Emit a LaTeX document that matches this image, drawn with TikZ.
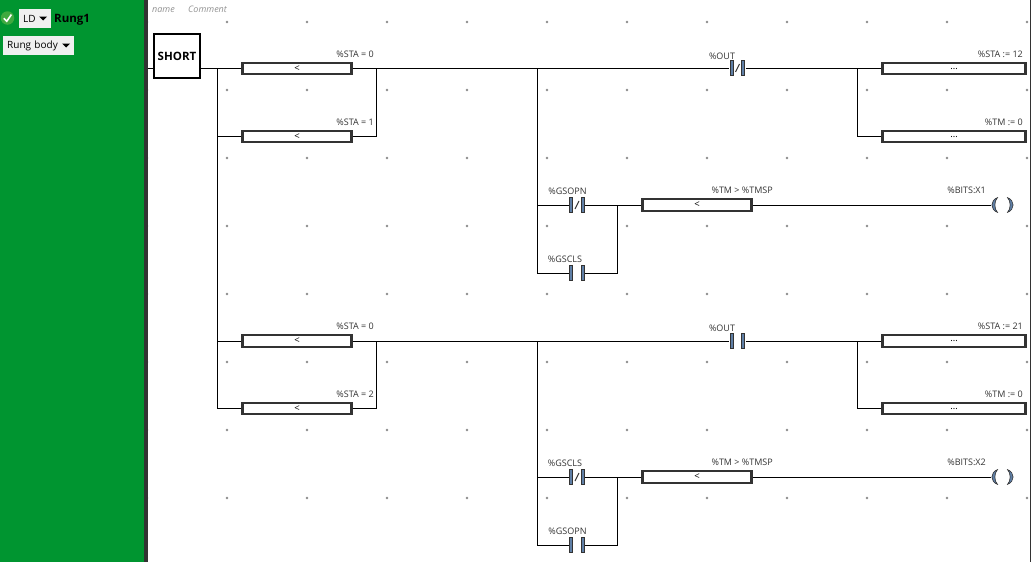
\documentclass[tikz,border=0pt]{standalone}
\usepackage{fontspec}
\setmainfont{Open Sans}
\usepackage{xcolor}
\usetikzlibrary{arrows.meta, calc}

\definecolor{rungside}{HTML}{009530}
\definecolor{railgray}{HTML}{333333}
\definecolor{barblue}{HTML}{5F7FA6}

\begin{document}
\begin{tikzpicture}[x=1pt,y=-1pt]

% Stili per gli elementi del rung
\tikzset{
  griddot/.style={circle, fill=gray!90, inner sep=0pt, minimum size=2.8pt},
  wire/.style={black, line width=0.85pt},
  blockbox/.style={draw=railgray, line width=2.2pt, fill=white, inner sep=0pt, minimum height=11.5pt,
    font=\fontsize{9.5}{9.5}\selectfont},
  cmpbox/.style={blockbox, minimum width=109pt},
  setbox/.style={blockbox, minimum width=143pt},
  tag/.style={inner sep=0pt, text=black!80, font=\fontsize{9}{9}\selectfont},
  contact/.style={inner sep=0pt, minimum width=16pt, minimum height=15.5pt,
    path picture={
      \coordinate (cnw) at (path picture bounding box.north west);
      \draw[fill=barblue, draw=railgray, line width=0.9pt] ($(cnw)+(0.6,0.4)$) rectangle ($(cnw)+(3.8,15.1)$);
      \draw[fill=barblue, draw=railgray, line width=0.9pt] ($(cnw)+(12.2,0.4)$) rectangle ($(cnw)+(15.4,15.1)$);
    }},
  contactnc/.style={contact, append after command={
      \pgfextra{\draw[railgray, line width=1.1pt]
        ($(\tikzlastnode.center)+(-2,4)$) -- ($(\tikzlastnode.center)+(2,-4)$);}}},
  coil/.style={inner sep=0pt, minimum width=23pt, minimum height=15.5pt,
    path picture={
      \coordinate (cnw) at (path picture bounding box.north west);
      \fill[barblue, draw=railgray, line width=0.6pt]
        ($(cnw)+(6.5,0.4)$) .. controls ($(cnw)+(-1,3)$) and ($(cnw)+(-1,12.5)$) .. ($(cnw)+(6.5,15.1)$)
        .. controls ($(cnw)+(3,12)$) and ($(cnw)+(3,3.5)$) .. cycle;
      \fill[barblue, draw=railgray, line width=0.6pt]
        ($(cnw)+(16.5,0.4)$) .. controls ($(cnw)+(24,3)$) and ($(cnw)+(24,12.5)$) .. ($(cnw)+(16.5,15.1)$)
        .. controls ($(cnw)+(20,12)$) and ($(cnw)+(20,3.5)$) .. cycle;
    }},
  menubox/.style={fill=gray!12, inner sep=0pt, text=black, font=\fontsize{10}{10}\selectfont}
}

\useasboundingbox (0,0) rectangle (1031,562);
\fill[white] (0,0) rectangle (1031,562);

% --- Griglia di punti ---
\foreach \gx in {147,227,...,1027}
  \foreach \gy in {22,90,158,226,294,362,430,498}
    \node[griddot] at (\gx,\gy) {};

% --- Barra laterale ---
\fill[rungside] (0,0) rectangle (144,562);
\fill[railgray] (144,0) rectangle (147.5,562);
\fill[railgray] (1029.5,0) rectangle (1031,562);

\node[circle, fill=green!55!black!75!white, inner sep=0pt, minimum size=13.5pt] (okmark) at (7.5,18) {};
\draw[white, line width=1.6pt] (3.8,18.2) -- (6.8,21.2) -- (11.4,14.6);

\node[menubox, minimum width=32pt, minimum height=19pt, anchor=north west, text width=29pt, align=left] (ldmenu) at (19,9) {\hspace{2.5pt}LD};
\fill[black] (39,16.5) -- (47,16.5) -- (43,20.5) -- cycle;
\node[anchor=base west, inner sep=0pt, font=\fontsize{11.5}{11.5}\selectfont\bfseries] (rungname) at (54,23) {Rung1};

\node[menubox, minimum width=71pt, minimum height=19pt, anchor=north west, text width=68pt, align=left] (bodymenu) at (3,36) {\hspace{2.5pt}Rung body};
\fill[black] (62,43.5) -- (70,43.5) -- (66,47.5) -- cycle;

% --- Intestazione ---
\node[anchor=base west, inner sep=0pt, text=gray!85, font=\fontsize{9}{9}\selectfont\itshape] (rungtitle) at (152,12.5) {name};
\node[anchor=base west, inner sep=0pt, text=gray!85, font=\fontsize{9}{9}\selectfont\itshape] (rungnote) at (188,12.5) {Comment};

% --- Blocco di partenza ---
\node[draw=black, line width=2pt, fill=white, minimum width=46.5pt, minimum height=44.5pt, inner sep=0pt,
  font=\fontsize{11.5}{11.5}\selectfont\bfseries] (short) at (177,56) {SHORT};
\coordinate (leftstub) at (147.5,68);
\draw[wire] (leftstub) -- (short.west |- leftstub);

% --- Primo ramo ---
\node[cmpbox] (staA) at (297,68.5) {<};
\node[cmpbox] (staB) at (297,136.5) {<};
\node[tag, anchor=base east] (staAtag) at (374,57) {\%STA = 0};
\node[tag, anchor=base east] (staBtag) at (374,125) {\%STA = 1};

\coordinate (railtop) at (217,68);
\coordinate (rejoinA) at (376,68);
\coordinate (forkA) at (537,68);
\coordinate (forkcoilA) at (857,68);
\coordinate (joinA) at (617,205);

\node[contactnc] (outA) at (737.5,68) {};
\node[tag] (outAtag) at (722,56) {\%OUT};
\node[setbox] (setstaA) at (954,68.5) {\raisebox{-2pt}{\ldots}};
\node[setbox] (settmA) at (954,136.5) {\raisebox{-2pt}{\ldots}};
\node[tag, anchor=base east] (setstaAtag) at (1023,57) {\%STA := 12};
\node[tag, anchor=base east] (settmAtag) at (1023,125) {\%TM := 0};

\node[contactnc] (opnA) at (577,205) {};
\node[tag] (opnAtag) at (567.5,191) {\%GSOPN};
\node[contact] (clsA) at (577,273) {};
\node[tag] (clsAtag) at (565,259) {\%GSCLS};
\node[cmpbox] (tmA) at (697,205) {<};
\node[tag, anchor=base east] (tmAtag) at (773,193) {\%TM > \%TMSP};
\node[coil] (bitsA) at (1002.5,205) {};
\node[tag, anchor=base east] (bitsAtag) at (986,193) {\%BITS:X1};

\draw[wire] (short.east |- railtop) -- (staA.west |- railtop);
\draw[wire] (railtop) |- (staB.west);
\draw[wire] (staB.east) -| (rejoinA);
\draw[wire] (staA.east |- rejoinA) -- (outA.west);
\draw[wire] (outA.east) -- (setstaA.west |- forkcoilA);
\draw[wire] (forkcoilA) |- (settmA.west);
\draw[wire] (forkA) |- (opnA.west);
\draw[wire] (forkA) |- (clsA.west);
\draw[wire] (opnA.east) -- (tmA.west);
\draw[wire] (clsA.east) -| (joinA);
\draw[wire] (tmA.east) -- (bitsA.west);

% --- Secondo ramo ---
\node[cmpbox] (staC) at (297,341) {<};
\node[cmpbox] (staD) at (297,408.5) {<};
\node[tag, anchor=base east] (staCtag) at (374,329.5) {\%STA = 0};
\node[tag, anchor=base east] (staDtag) at (374,397) {\%STA = 2};

\coordinate (railmid) at (217,341);
\coordinate (rejoinB) at (376,341);
\coordinate (forkB) at (537,341);
\coordinate (forkcoilB) at (857,341);
\coordinate (joinB) at (617,477);

\node[contact] (outB) at (737.5,341) {};
\node[tag] (outBtag) at (722,328.5) {\%OUT};
\node[setbox] (setstaB) at (954,341) {\raisebox{-2pt}{\ldots}};
\node[setbox] (settmB) at (954,408.5) {\raisebox{-2pt}{\ldots}};
\node[tag, anchor=base east] (setstaBtag) at (1023,329.5) {\%STA := 21};
\node[tag, anchor=base east] (settmBtag) at (1023,397) {\%TM := 0};

\node[contactnc] (clsB) at (577,477) {};
\node[tag] (clsBtag) at (565,463) {\%GSCLS};
\node[contact] (opnB) at (577,545) {};
\node[tag] (opnBtag) at (567.5,531) {\%GSOPN};
\node[cmpbox] (tmB) at (697,477) {<};
\node[tag, anchor=base east] (tmBtag) at (773,465) {\%TM > \%TMSP};
\node[coil] (bitsB) at (1002.5,477) {};
\node[tag, anchor=base east] (bitsBtag) at (986,465) {\%BITS:X2};

\draw[wire] (railtop) |- (staC.west);
\draw[wire] (railmid) |- (staD.west);
\draw[wire] (staD.east) -| (rejoinB);
\draw[wire] (staC.east) -- (outB.west);
\draw[wire] (outB.east) -- (setstaB.west);
\draw[wire] (forkcoilB) |- (settmB.west);
\draw[wire] (forkB) |- (clsB.west);
\draw[wire] (forkB) |- (opnB.west);
\draw[wire] (clsB.east) -- (tmB.west);
\draw[wire] (opnB.east) -| (joinB);
\draw[wire] (tmB.east) -- (bitsB.west);

\end{tikzpicture}
\end{document}
